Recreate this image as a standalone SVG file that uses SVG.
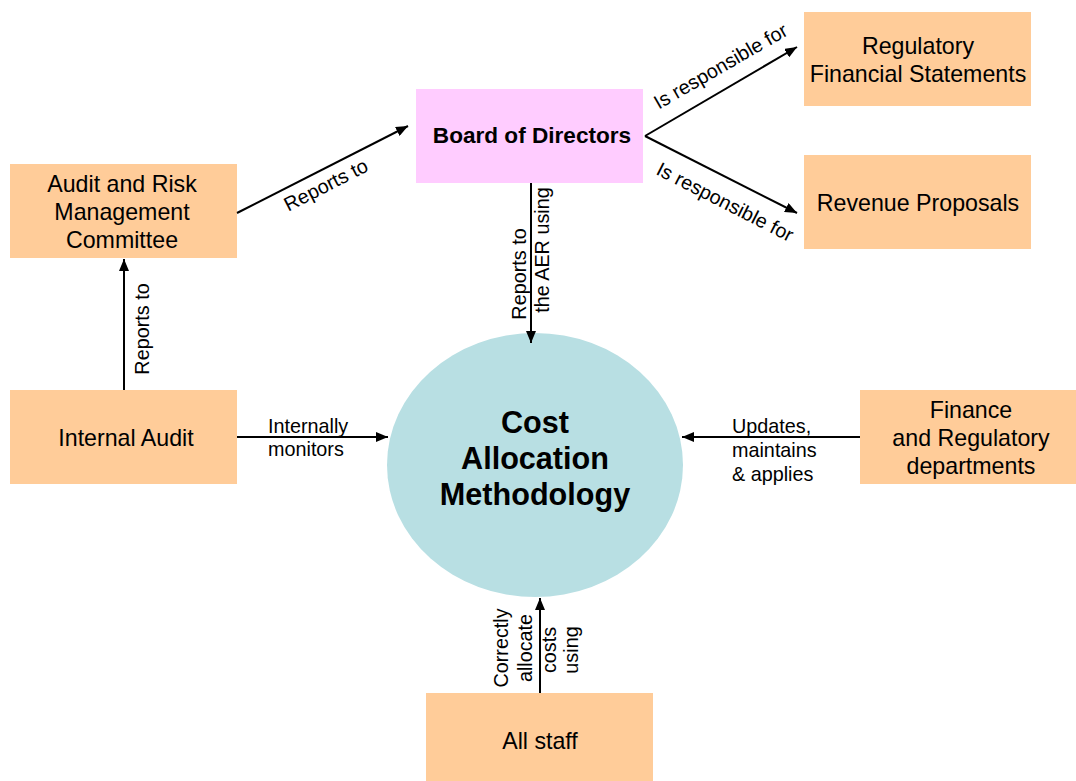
<svg xmlns="http://www.w3.org/2000/svg" width="1076" height="781" viewBox="0 0 1076 781">
<style>
.box{fill:#FFCC99;stroke:none}
.t{font-family:"Liberation Sans",Arial,sans-serif;font-size:23.2px;fill:#000;text-anchor:middle}
.lbl{font-family:"Liberation Sans",Arial,sans-serif;font-size:19.8px;fill:#000}
.c{stroke:#000;stroke-width:2;fill:none;marker-end:url(#ah)}
</style>
<defs>
<marker id="ah" markerUnits="userSpaceOnUse" markerWidth="12" markerHeight="10" refX="12" refY="5" orient="auto">
<path d="M0,0 L12,5 L0,10 z" fill="#000"/>
</marker>
</defs>
<rect width="1076" height="781" fill="#fff"/>
<g id="cam">
<ellipse cx="535" cy="465" rx="148" ry="132" fill="#B8DFE3"/>
<text x="535" y="433" class="t" style="font-weight:bold;font-size:30.6px">Cost</text>
<text x="535" y="469" class="t" style="font-weight:bold;font-size:30.6px">Allocation</text>
<text x="535" y="505" class="t" style="font-weight:bold;font-size:30.6px">Methodology</text>
</g>
<g id="board">
<rect x="416" y="89" width="227" height="94" fill="#FFCCFF"/>
<text x="532" y="143" class="t" style="font-weight:bold;font-size:22.6px">Board of Directors</text>
</g>
<g id="rfs">
<rect class="box" x="804" y="12" width="227" height="94"/>
<text x="918" y="54" class="t">Regulatory</text>
<text x="918" y="82" class="t">Financial Statements</text>
</g>
<g id="rev">
<rect class="box" x="804" y="155" width="227" height="94"/>
<text x="918" y="211" class="t">Revenue Proposals</text>
</g>
<g id="armc">
<rect class="box" x="10" y="164" width="227" height="94"/>
<text x="122" y="192" class="t">Audit and Risk</text>
<text x="122" y="220" class="t">Management</text>
<text x="122" y="248" class="t">Committee</text>
</g>
<g id="ia">
<rect class="box" x="10" y="390" width="227" height="94"/>
<text x="126" y="446" class="t">Internal Audit</text>
</g>
<g id="fin">
<rect class="box" x="860" y="390" width="216" height="94"/>
<text x="971" y="418" class="t">Finance</text>
<text x="971" y="446" class="t">and Regulatory</text>
<text x="971" y="474" class="t">departments</text>
</g>
<g id="staff">
<rect class="box" x="426" y="693" width="227" height="88"/>
<text x="540" y="749" class="t">All staff</text>
</g>
<g id="connectors">
<line class="c" x1="645" y1="136" x2="797" y2="47"/>
<line class="c" x1="645" y1="136" x2="797" y2="213"/>
<line class="c" x1="237" y1="213" x2="408" y2="126"/>
<line class="c" x1="124" y1="390" x2="124" y2="259"/>
<line class="c" x1="531" y1="183" x2="531" y2="343"/>
<line class="c" x1="237" y1="437" x2="388" y2="437"/>
<line class="c" x1="860" y1="437" x2="682" y2="437"/>
<line class="c" x1="540" y1="693" x2="540" y2="598"/>
<text class="lbl" text-anchor="middle" transform="translate(724,72) rotate(-30)">Is responsible for</text>
<text class="lbl" text-anchor="middle" transform="translate(722,208) rotate(27)">Is responsible for</text>
<text class="lbl" text-anchor="middle" transform="translate(329,191) rotate(-27)">Reports to</text>
<text class="lbl" text-anchor="middle" transform="translate(149,329) rotate(-90)">Reports to</text>
<text class="lbl" text-anchor="middle" transform="translate(526,274) rotate(-90)">Reports to</text>
<text class="lbl" text-anchor="middle" transform="translate(549,250) rotate(-90)">the AER using</text>
<text class="lbl" x="268" y="433">Internally</text>
<text class="lbl" x="268" y="456">monitors</text>
<text class="lbl" x="732" y="433">Updates,</text>
<text class="lbl" x="732" y="457">maintains</text>
<text class="lbl" x="732" y="481">&amp; applies</text>
<text class="lbl" text-anchor="middle" transform="translate(508,648) rotate(-90)">Correctly</text>
<text class="lbl" text-anchor="middle" transform="translate(532,648) rotate(-90)">allocate</text>
<text class="lbl" text-anchor="middle" transform="translate(556,650) rotate(-90)">costs</text>
<text class="lbl" text-anchor="middle" transform="translate(578,650) rotate(-90)">using</text>
</g>
</svg>
